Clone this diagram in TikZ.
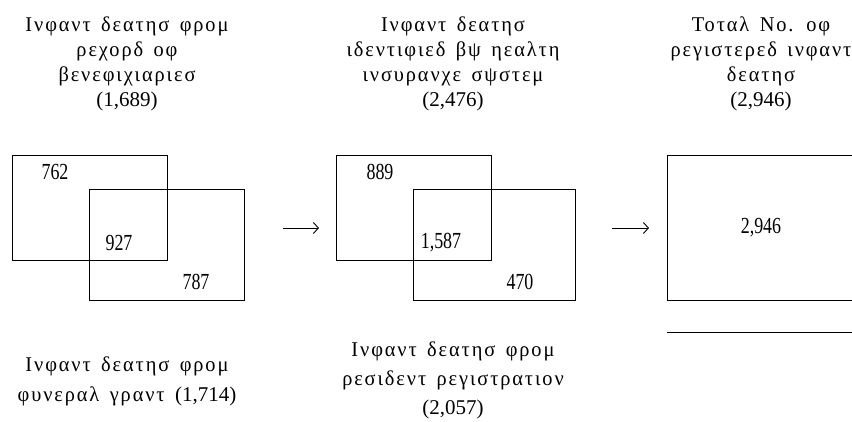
\documentclass[tikz,border=0pt]{standalone}
\usepackage{fontspec}
\setmainfont{Liberation Serif}
\newfontfamily\gkfont{Liberation Serif}[FakeStretch=0.97,LetterSpace=9,WordSpace=1.5]
\newfontfamily\numfont{Liberation Serif}[FakeStretch=0.78]
\usetikzlibrary{positioning, arrows, arrows.meta}

\begin{document}
\begin{tikzpicture}[x=1pt,y=-1pt,
   box/.style={draw,line width=0.8pt,anchor=north west,inner sep=0pt},
   count/.style={font=\fontsize{23}{26}\numfont,inner sep=0pt},
   caption/.style={align=center,font=\fontsize{21}{25}\gkfont},
   flow/.style={-{Straight Barb[length=5pt,width=11pt]},line width=0.9pt}]
   \useasboundingbox (0,0) rectangle (852,422);
   % first pair of boxes
   \node[box,minimum width=155pt,minimum height=105pt] (rec) at (12,155) {};
   \node[box,minimum width=155pt,minimum height=111pt] (fun) at (89,189) {};
   \node[count] (recOnly) at (55,172) {762};
   \node[count] (recFun) at (119,243) {927};
   \node[count] (funOnly) at (196,282) {787};
   % second pair of boxes
   \node[box,minimum width=155pt,minimum height=105pt] (ins) at (336,155) {};
   \node[box,minimum width=162pt,minimum height=111pt] (res) at (413,189) {};
   \node[count] (insOnly) at (380,172) {889};
   \node[count] (insRes) at (441,243) {1,587};
   \node[count] (resOnly) at (520,282) {470};
   % total
   \node[box,minimum width=200pt,minimum height=145pt] (tot) at (667,155) {};
   \node[count] (totNum) at (761,228) {2,946};
   \coordinate (rule) at (667,332);
   \draw[line width=0.8pt] (rule) -- ++(200,0);
   % captions
   \node[caption] (capRec) at (127,64) {Ινφαντ δεατησ φρομ\\ρεχορδ οφ\\βενεφιχιαριεσ\\{\rmfamily(1,689)}};
   \node[caption] (capIns) at (453,64) {Ινφαντ δεατησ\\ιδεντιφιεδ βψ ηεαλτη\\ινσυρανχε σψστεμ\\{\rmfamily(2,476)}};
   \node[caption] (capTot) at (761,64) {Τοταλ Νο. οφ\\ρεγιστερεδ ινφαντ\\δεατησ\\{\rmfamily(2,946)}};
   \node[caption,font=\fontsize{21}{30}\gkfont] (capFun) at (127,381) {Ινφαντ δεατησ φρομ\\φυνεραλ γραντ {\rmfamily(1,714)}};
   \node[caption,font=\fontsize{21}{29}\gkfont] (capRes) at (453,380) {Ινφαντ δεατησ φρομ\\ρεσιδεντ ρεγιστρατιον\\{\rmfamily(2,057)}};
   % arrows
   \coordinate (a1) at (283,228);
   \coordinate (b1) at (319,228);
   \coordinate (a2) at (612,228);
   \coordinate (b2) at (649,228);
   \draw[flow] (a1) -- (b1);
   \draw[flow] (a2) -- (b2);
\end{tikzpicture}
\end{document}
